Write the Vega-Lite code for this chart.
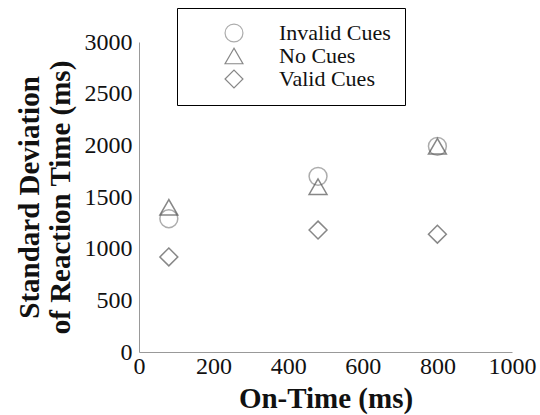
{
  "$schema": "https://vega.github.io/schema/vega-lite/v6.json",
  "width": 373,
  "height": 310,
  "autosize": {"type": "none"},
  "padding": {"left": 139, "top": 42, "right": 28, "bottom": 63},
  "background": "white",
  "config": {
    "view": {"stroke": null},
    "font": "Liberation Serif"
  },
  "data": {
    "values": [
      {"ontime": 80, "sd": 1290, "cue": "Invalid Cues"},
      {"ontime": 80, "sd": 1400, "cue": "No Cues"},
      {"ontime": 80, "sd": 920, "cue": "Valid Cues"},
      {"ontime": 480, "sd": 1700, "cue": "Invalid Cues"},
      {"ontime": 480, "sd": 1600, "cue": "No Cues"},
      {"ontime": 480, "sd": 1180, "cue": "Valid Cues"},
      {"ontime": 800, "sd": 1990, "cue": "Invalid Cues"},
      {"ontime": 800, "sd": 1990, "cue": "No Cues"},
      {"ontime": 800, "sd": 1140, "cue": "Valid Cues"}
    ]
  },
  "mark": {"type": "point", "filled": false, "size": 320, "strokeWidth": 1.5},
  "encoding": {
    "x": {
      "field": "ontime", "type": "quantitative",
      "scale": {"domain": [0, 1000], "nice": false, "zero": true},
      "axis": {
        "title": "On-Time (ms)",
        "values": [0, 200, 400, 600, 800, 1000],
        "format": "d",
        "grid": false,
        "domainColor": "#999", "tickColor": "#999", "tickSize": 0, "labelPadding": 2,
        "encode": {"ticks": {"update": {"y2": {"value": -14}}}},
        "labelFont": "Liberation Serif", "labelFontSize": 24, "labelColor": "#111",
        "labelFlush": false, "labelOverlap": false,
        "titleFont": "Liberation Serif", "titleFontSize": 29, "titleFontWeight": "bold", "titleColor": "#111",
        "titleBaseline": "alphabetic", "titleY": 55
      }
    },
    "y": {
      "field": "sd", "type": "quantitative",
      "scale": {"domain": [0, 3000], "nice": false},
      "axis": {
        "title": ["Standard Deviation", "of Reaction Time (ms)"],
        "values": [0, 500, 1000, 1500, 2000, 2500, 3000],
        "format": "d",
        "grid": false,
        "domainColor": "#999", "tickColor": "#999", "tickSize": 0, "labelPadding": 7,
        "encode": {"ticks": {"update": {"x2": {"value": 14}}}},
        "labelFont": "Liberation Serif", "labelFontSize": 24, "labelColor": "#111",
        "labelFlush": false, "labelOverlap": false,
        "titleFont": "Liberation Serif", "titleFontSize": 29, "titleFontWeight": "bold", "titleColor": "#111",
        "titleAngle": -90, "titleAlign": "center", "titleBaseline": "alphabetic",
        "titleX": -101, "titleY": 155, "titleLineHeight": 31
      }
    },
    "shape": {
      "field": "cue", "type": "nominal",
      "scale": {"domain": ["Invalid Cues", "No Cues", "Valid Cues"], "range": ["circle", "triangle-up", "diamond"]},
      "legend": {
        "title": null, "orient": "none", "legendX": 38, "legendY": -34,
        "padding": 14, "symbolOffset": 32, "labelOffset": 34, "rowPadding": 0,
        "strokeColor": "black", "fillColor": "white",
        "labelFont": "Liberation Serif", "labelFontSize": 22, "labelColor": "#111",
        "symbolSize": 320, "symbolStrokeWidth": 1.2, "symbolFillColor": "transparent",
        "encode": {"legend": {"update": {"strokeWidth": {"value": 2.5}}}}
      }
    },
    "stroke": {
      "field": "cue", "type": "nominal",
      "scale": {"domain": ["Invalid Cues", "No Cues", "Valid Cues"], "range": ["#8a8a8a", "#555555", "#555555"]},
      "legend": null
    }
  }
}
